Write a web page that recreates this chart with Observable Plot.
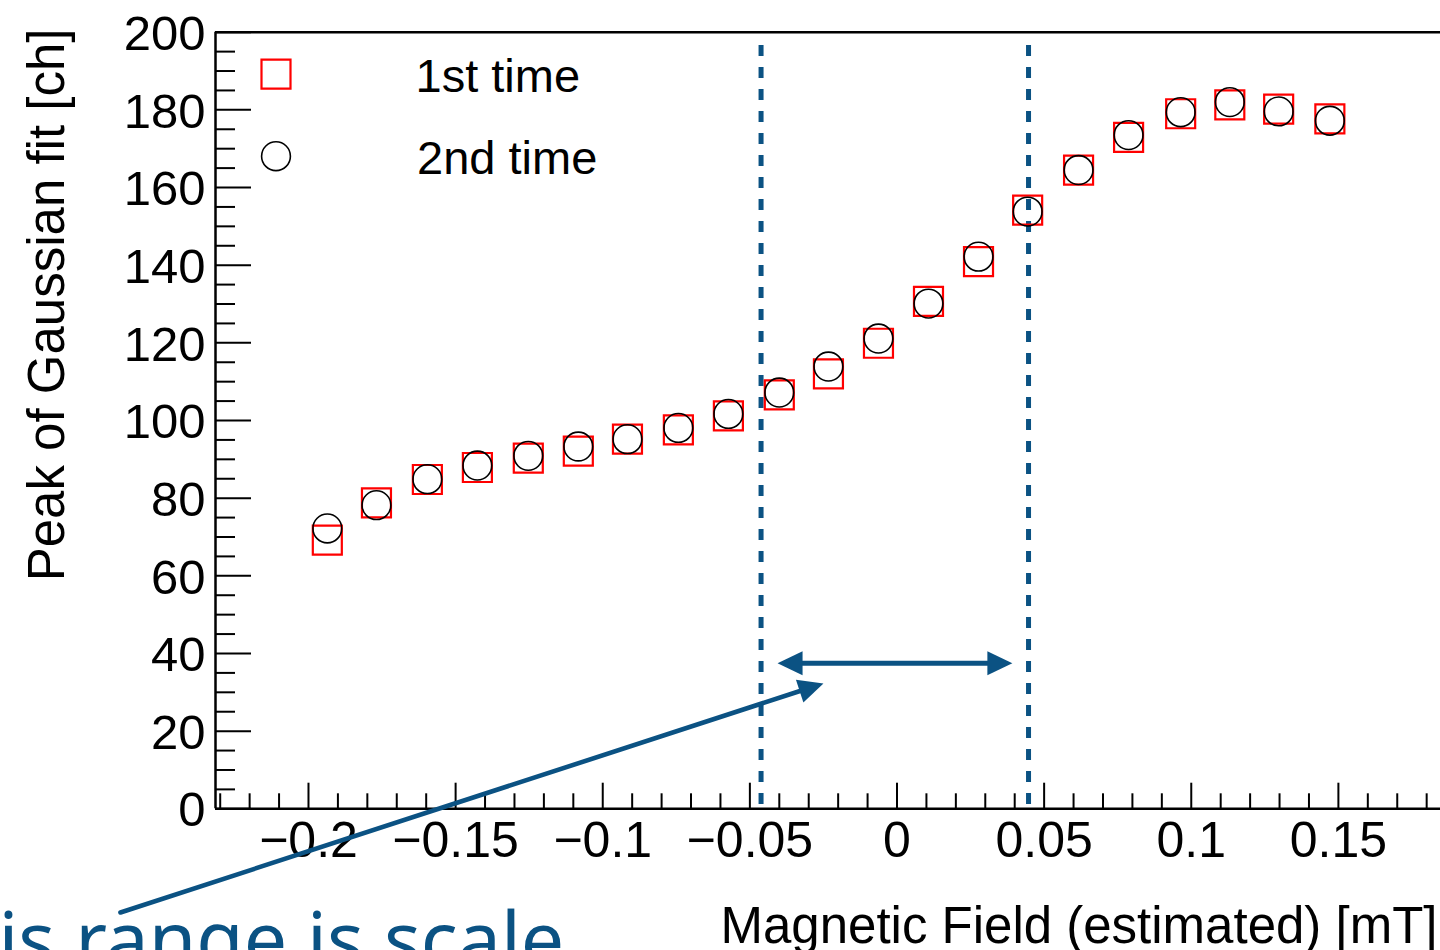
<!DOCTYPE html>
<html>
<head>
<meta charset="utf-8">
<script src="https://cdn.jsdelivr.net/npm/d3@7"></script>
<script src="https://cdn.jsdelivr.net/npm/@observablehq/plot@0.6"></script>
<style>
  html, body { margin: 0; padding: 0; overflow: hidden; background: #fff; }
</style>
</head>
<body>
<div id="chart"></div>
<script>
// ---------------- data ----------------
const field = [-0.1936, -0.1769, -0.1596, -0.1426, -0.1253, -0.1083, -0.0916, -0.0743, -0.0573, -0.0400,
               -0.0233, -0.0063, 0.0107, 0.0277, 0.0444, 0.0617, 0.0787, 0.0964, 0.1131, 0.1297, 0.1471];
const peak1st = [69.2, 78.8, 84.8, 87.9, 90.3, 92.1, 95.2, 97.6, 101.2, 106.6,
                 112.0, 119.9, 130.7, 140.9, 154.2, 164.5, 172.9, 179.0, 181.3, 180.2, 177.7];
const peak2nd = [72.2, 78.2, 84.9, 88.4, 90.9, 93.3, 95.2, 98.1, 101.7, 107.2,
                 113.9, 121.1, 130.1, 142.2, 153.8, 164.5, 173.5, 179.4, 182.0, 179.6, 177.2];
const seriesNames = ["1st time", "2nd time"];

const xMajorTicks = [-0.2, -0.15, -0.1, -0.05, 0, 0.05, 0.1, 0.15];
const xTickLabels = ["\u22120.2", "\u22120.15", "\u22120.1", "\u22120.05", "0", "0.05", "0.1", "0.15"];
const xMinorTicks = [-0.23, -0.22, -0.21, -0.19, -0.18, -0.17, -0.16, -0.14, -0.13, -0.12, -0.11,
                     -0.09, -0.08, -0.07, -0.06, -0.04, -0.03, -0.02, -0.01, 0.01, 0.02, 0.03, 0.04,
                     0.06, 0.07, 0.08, 0.09, 0.11, 0.12, 0.13, 0.14, 0.16, 0.17, 0.18];
const yMajorTicks = [0, 20, 40, 60, 80, 100, 120, 140, 160, 180, 200];
const yTickLabels = ["0", "20", "40", "60", "80", "100", "120", "140", "160", "180", "200"];
const yMinorTicks = [5, 10, 15, 25, 30, 35, 45, 50, 55, 65, 70, 75, 85, 90, 95, 105, 110, 115,
                     125, 130, 135, 145, 150, 155, 165, 170, 175, 185, 190, 195];

// annotation (in data units)
const boundaries = [-0.0462, 0.0447];
const boundaryTop = 196.6;
const rangeArrow = {x1: -0.0406, x2: 0.0392, y: 37.5};
const pointerArrow = {x1: -0.2639, y1: -26.7, x2: -0.0250, y2: 32.3};
const noteText = "is range is scale";
const xTitle = "Magnetic Field (estimated) [mT]";
const yTitle = "Peak of Gaussian fit [ch]";

// ---------------- layout ----------------
const W = 1440, H = 950;
const mL = 215, mR = 0, mT = 31.7, mB = 141.7;
const xDomain = [-0.2316, 0.1847];
const yDomain = [0, 200];
const pxPerX = (W - mL - mR) / (xDomain[1] - xDomain[0]);
const pxPerY = (H - mT - mB) / (yDomain[1] - yDomain[0]);
const blue = "#0b5283";
const red = "#ff0000";

const points = field.map((x, i) => ({x, first: peak1st[i], second: peak2nd[i]}));

// arrow heads
const HL = 25, HW = 24;
function headSymbol(angle) {
  const c = Math.cos(angle), s = Math.sin(angle);
  const pts = [[0, 0], [-HL, -HW / 2], [-HL, HW / 2]];
  return {
    draw(ctx) {
      pts.forEach(([x, y], i) => {
        const X = x * c - y * s, Y = x * s + y * c;
        if (i) ctx.lineTo(X, Y); else ctx.moveTo(X, Y);
      });
      ctx.closePath();
    }
  };
}
const pAng = Math.atan2(-(pointerArrow.y2 - pointerArrow.y1) * pxPerY, (pointerArrow.x2 - pointerArrow.x1) * pxPerX);
const pShaft = [
  {x: pointerArrow.x1, y: pointerArrow.y1},
  {x: pointerArrow.x2 - (HL - 2) * Math.cos(pAng) / pxPerX, y: pointerArrow.y2 + (HL - 2) * Math.sin(pAng) / pxPerY}
];
const rShaft = [
  {x: rangeArrow.x1 + (HL - 2) / pxPerX, y: rangeArrow.y},
  {x: rangeArrow.x2 - (HL - 2) / pxPerX, y: rangeArrow.y}
];

const chart = Plot.plot({
  width: W, height: H,
  marginLeft: mL, marginRight: mR, marginTop: mT, marginBottom: mB,
  x: {domain: xDomain, axis: null},
  y: {domain: yDomain, axis: null},
  style: {fontFamily: "'Liberation Sans', Arial, Helvetica, sans-serif", fontSize: "49px", background: "#fff", color: "#000", overflow: "visible"},
  marks: [
    // frame
    Plot.ruleX([xDomain[0]], {y1: yDomain[0], y2: yDomain[1], strokeWidth: 2.5, stroke: "#000"}),
    Plot.ruleY([yDomain[0], yDomain[1]], {x1: xDomain[0], x2: xDomain[1], strokeWidth: 2.5, stroke: "#000"}),
    // y ticks (inward)
    Plot.ruleY(yMajorTicks, {y: d => d, x1: xDomain[0], x2: xDomain[0] + 36 / pxPerX, strokeWidth: 2, stroke: "#000"}),
    Plot.ruleY(yMinorTicks, {y: d => d, x1: xDomain[0], x2: xDomain[0] + 20 / pxPerX, strokeWidth: 2, stroke: "#000"}),
    // x ticks (inward)
    Plot.ruleX(xMajorTicks, {x: d => d, y1: yDomain[0], y2: yDomain[0] + 25.6 / pxPerY, strokeWidth: 2, stroke: "#000"}),
    Plot.ruleX(xMinorTicks, {x: d => d, y1: yDomain[0], y2: yDomain[0] + 15 / pxPerY, strokeWidth: 2, stroke: "#000"}),
    // tick labels
    Plot.text(yMajorTicks, {y: d => d, frameAnchor: "left", text: (d, i) => yTickLabels[i], textAnchor: "end", lineAnchor: "middle", dx: -10, dy: 2, fontSize: 49}),
    Plot.text(xMajorTicks, {x: d => d, frameAnchor: "bottom", text: (d, i) => xTickLabels[i], textAnchor: "middle", lineAnchor: "middle", dy: 32, fontSize: 50}),
    // axis titles
    Plot.text([xTitle], {frameAnchor: "bottom-right", textAnchor: "end", lineAnchor: "bottom", dx: -3, dy: 134.4, fontSize: 51}),
    Plot.text([yTitle], {frameAnchor: "top-left", rotate: -90, textAnchor: "end", lineAnchor: "bottom", dx: -152, dy: -3.7, fontSize: 51}),
    // boundaries
    Plot.ruleX(boundaries, {x: d => d, y1: boundaryTop, y2: 0, stroke: blue, strokeWidth: 5, strokeDasharray: "11,11"}),
    // data
    Plot.dot(points, {x: "x", y: "first", symbol: "square", r: 29 / Math.sqrt(Math.PI), stroke: red, strokeWidth: 2.2, fill: "none"}),
    Plot.dot(points, {x: "x", y: "second", symbol: "circle", r: 14.4, stroke: "#000", strokeWidth: 1.6, fill: "none"}),
    // legend
    Plot.dot([seriesNames[0]], {frameAnchor: "top-left", dx: 60.5, dy: 42, symbol: "square", r: 29 / Math.sqrt(Math.PI), stroke: red, strokeWidth: 2.2, fill: "none"}),
    Plot.dot([seriesNames[1]], {frameAnchor: "top-left", dx: 60.5, dy: 124, symbol: "circle", r: 14.4, stroke: "#000", strokeWidth: 1.6, fill: "none"}),
    Plot.text([seriesNames[0]], {frameAnchor: "top-left", textAnchor: "start", lineAnchor: "middle", dx: 200, dy: 44.8, fontSize: 47}),
    Plot.text([seriesNames[1]], {frameAnchor: "top-left", textAnchor: "start", lineAnchor: "middle", dx: 201.5, dy: 126.8, fontSize: 47}),
    // range arrow
    Plot.line(rShaft, {x: "x", y: "y", stroke: blue, strokeWidth: 5}),
    Plot.dot([rangeArrow], {x: "x1", y: "y", symbol: headSymbol(Math.PI), fill: blue, stroke: "none"}),
    Plot.dot([rangeArrow], {x: "x2", y: "y", symbol: headSymbol(0), fill: blue, stroke: "none"}),
    // pointer arrow
    Plot.line(pShaft, {x: "x", y: "y", stroke: blue, strokeWidth: 4.6}),
    Plot.dot([pointerArrow], {x: "x2", y: "y2", symbol: headSymbol(pAng), fill: blue, stroke: "none"}),
    // note
    Plot.text([noteText], {frameAnchor: "bottom-left", textAnchor: "start", lineAnchor: "bottom", dx: -217, dy: 158, fontFamily: "'Noto Sans', sans-serif", fontSize: 77, fill: blue})
  ]
});
document.getElementById("chart").appendChild(chart);
</script>
</body>
</html>
